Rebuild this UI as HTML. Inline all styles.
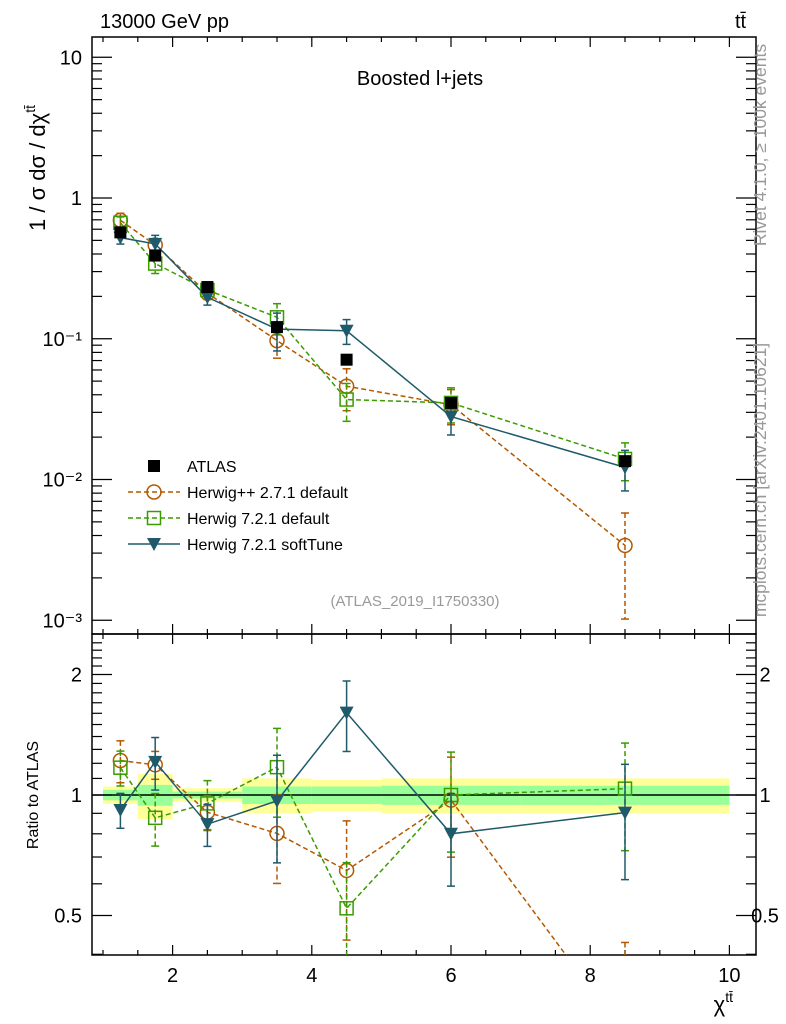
<!DOCTYPE html>
<html><head><meta charset="utf-8">
<style>
html,body{margin:0;padding:0;background:#fff;width:786px;height:1024px;overflow:hidden;font-family:"Liberation Sans",sans-serif}
svg{display:block;overflow:hidden}
svg text{font-family:"Liberation Sans",sans-serif}
</style></head>
<body>
<svg id="c" width="786" height="1024" viewBox="0 0 786 1024" xmlns="http://www.w3.org/2000/svg"></svg>
<script>
const centers=[1.25,1.75,2.5,3.5,4.5,6,8.5];
const binEdges=[1,1.5,2,3,4,5,7,10];
const atlas=[0.57,0.39,0.233,0.121,0.071,0.035,0.0135];
const atlasStat=[0.03,0.06,0.02,0.05,0.05,0.055,0.055];
const atlasTot=[0.05,0.13,0.04,0.10,0.09,0.10,0.10];
const hwpp=[0.695,0.464,0.211,0.097,0.046,0.034,0.0034];
const hwppErr=[0.12,0.08,0.10,0.25,0.33,0.28,0.7];
const hw7=[0.667,0.342,0.222,0.142,0.037,0.035,0.014];
const hw7Err=[0.10,0.15,0.14,0.25,0.30,0.28,0.30];
const soft=[0.523,0.472,0.197,0.117,0.114,0.028,0.0122];
const softErr=[0.10,0.15,0.12,0.30,0.20,0.26,0.32];
const xTicks=[2,4,6,8,10];
const yTicks=[10,1,0.1,0.01,0.001];
const yTickLabels=["10","1","10\u207B\u00B9","10\u207B\u00B2","10\u207B\u00B3"];
const rTicks=[2,1,0.5];

const NS="http://www.w3.org/2000/svg",svg=document.getElementById('c');
const L=92,R=756,T=37,M=634,B=955;
const X=x=>103+(x-1)*69.6;
const Y=v=>198-Math.log10(v)*140.75;
const RY=r=>795-Math.log2(r)*120.5;
function el(t,a,p){const e=document.createElementNS(NS,t);for(const k in a)e.setAttribute(k,a[k]);(p||svg).appendChild(e);return e;}
function txt(s,a,p){const e=el('text',a,p);e.textContent=s;return e;}
const defs=el('defs',{});
const cp1=el('clipPath',{id:'cm'},defs);el('rect',{x:L,y:T,width:R-L,height:M-T},cp1);
const cp2=el('clipPath',{id:'cr'},defs);el('rect',{x:L,y:M,width:R-L,height:B-M},cp2);

const gb=el('g',{'clip-path':'url(#cr)'});

for(let i=0;i<centers.length;i++){
 const x1=X(binEdges[i]),x2=X(binEdges[i+1]);
 const y=el('rect',{x:x1,width:x2-x1,y:RY(1+atlasTot[i]),height:RY(1-atlasTot[i])-RY(1+atlasTot[i]),fill:'#ffff99'},gb);
 
 const g=el('rect',{x:x1,width:x2-x1,y:RY(1+atlasStat[i]),height:RY(1-atlasStat[i])-RY(1+atlasStat[i]),fill:'#99ff99'},gb);
 
}
el('line',{x1:L,x2:R,y1:RY(1),y2:RY(1),stroke:'#000','stroke-width':1.5});

el('rect',{x:L,y:T,width:R-L,height:M-T,fill:'none',stroke:'#000','stroke-width':1.5});
el('rect',{x:L,y:M,width:R-L,height:B-M,fill:'none',stroke:'#000','stroke-width':1.5});

for(let d=-3;d<=1;d++){for(let k=1;k<10;k++){const v=k*Math.pow(10,d);const y=Y(v);if(y<T||y>M)continue;const len=k==1?20:10;
 el('line',{x1:L,x2:L+len,y1:y,y2:y,stroke:'#000','stroke-width':1.2});el('line',{x1:R,x2:R-len,y1:y,y2:y,stroke:'#000','stroke-width':1.2});}}
yTicks.forEach((v,i)=>{const t=txt(yTickLabels[i],{x:L-10,y:Y(v)+7,'font-size':20,'text-anchor':'end'});});
for(let r=0.4;r<=2.5;r+=0.1){const y=RY(r);if(y<M||y>B)continue;const big=Math.abs(r-1)<1e-6||Math.abs(r-2)<1e-6||Math.abs(r-0.5)<1e-6;const len=big?20:10;
 el('line',{x1:L,x2:L+len,y1:y,y2:y,stroke:'#000','stroke-width':1.2});el('line',{x1:R,x2:R-len,y1:y,y2:y,stroke:'#000','stroke-width':1.2});}
rTicks.forEach(r=>{const a=txt(String(r),{x:L-10,y:RY(r)+7,'font-size':20,'text-anchor':'end'});
 const b=txt(String(r),{x:765,y:RY(r)+7,'font-size':20,'text-anchor':'middle'});});
for(let x=1;x<=10;x+=0.5){const big=x%2==0;const len=big?10:5;const px=X(x);
 [M,B].forEach(yy=>el('line',{x1:px,x2:px,y1:yy,y2:yy-len,stroke:'#000','stroke-width':1.2}));
 el('line',{x1:px,x2:px,y1:T,y2:T+len,stroke:'#000','stroke-width':1.2});
 el('line',{x1:px,x2:px,y1:M,y2:M+len,stroke:'#000','stroke-width':1.2});}
xTicks.forEach(x=>{const t=txt(String(x),{x:X(x),y:B+27,'font-size':20,'text-anchor':'middle'});});

function marker(g,type,x,y,col){
 if(type=='sq')el('rect',{x:x-7,y:y-7,width:14,height:14,fill:'#000'},g);
 if(type=='circ')el('circle',{cx:x,cy:y,r:7,fill:'none',stroke:col,'stroke-width':1.5},g);
 if(type=='osq')el('rect',{x:x-6.5,y:y-6.5,width:13,height:13,fill:'none',stroke:col,'stroke-width':1.5},g);
 if(type=='tri')el('path',{d:`M${x-7},${y-6} L${x+7},${y-6} L${x},${y+7} Z`,fill:col},g);
}
function series(name,vals,errs,col,dash,type){
 const gm=el('g',{'clip-path':'url(#cm)'});
 const gr=el('g',{'clip-path':'url(#cr)'});
 const pm=[],pr=[];
 vals.forEach((v,i)=>{const x=X(centers[i]);pm.push(x+','+Y(v));const r=v/atlas[i];pr.push(x+','+RY(r));
  const e=errs[i];
  [[gm,Y(v*(1+e)),Y(v*Math.max(1-e,0.05))],[gr,RY(r*(1+e)),RY(r*Math.max(1-e,0.05))]].forEach(([g,y1,y2])=>{
   el('line',{x1:x,x2:x,y1:y1,y2:y2,stroke:col,'stroke-width':1.5,'stroke-dasharray':dash||'none'},g);
   el('line',{x1:x-4,x2:x+4,y1:y1,y2:y1,stroke:col,'stroke-width':1.5},g);
   el('line',{x1:x-4,x2:x+4,y1:y2,y2:y2,stroke:col,'stroke-width':1.5},g);});
 });
 el('polyline',{points:pm.join(' '),fill:'none',stroke:col,'stroke-width':1.5,'stroke-dasharray':dash||'none'},gm);
 el('polyline',{points:pr.join(' '),fill:'none',stroke:col,'stroke-width':1.5,'stroke-dasharray':dash||'none'},gr);
 vals.forEach((v,i)=>{const x=X(centers[i]);marker(gm,type,x,Y(v),col);marker(gr,type,x,RY(v/atlas[i]),col);});
}
series('herwigpp-271',hwpp,hwppErr,'#b35900','5,3','circ');
series('herwig-721-default',hw7,hw7Err,'#3a9c00','5,3','osq');
series('herwig-721-softtune',soft,softErr,'#1f5a6b',null,'tri');
const ga=el('g',{});
atlas.forEach((v,i)=>{const m=el('rect',{x:X(centers[i])-6,y:Y(v)-6,width:12,height:12,fill:'#000'},ga);});

const lg=el('g',{});
const items=[['ATLAS','sq','#000',null],['Herwig++ 2.7.1 default','circ','#b35900','5,3'],['Herwig 7.2.1 default','osq','#3a9c00','5,3'],['Herwig 7.2.1 softTune','tri','#1f5a6b',null]];
items.forEach((it,i)=>{const y=466+i*26;const g=el('g',{},lg);
 if(it[0]!='ATLAS')el('line',{x1:128,x2:180,y1:y,y2:y,stroke:it[2],'stroke-width':1.5,'stroke-dasharray':it[3]||'none'},g);
 if(it[1]=='sq')el('rect',{x:148,y:y-6,width:12,height:12,fill:'#000'},g);else marker(g,it[1],154,y,it[2]);
 txt(it[0],{x:187,y:y+6,'font-size':16},g);});

function lab(s,a,name){const t=txt(s,a);return t;}
lab('13000 GeV pp',{x:100,y:28,'font-size':20},'energy-label');
lab('tt\u0304',{x:735,y:28,'font-size':20},'process-label');
lab('Boosted l+jets',{x:420,y:85,'font-size':20,'text-anchor':'middle'},'plot-title');
lab('(ATLAS_2019_I1750330)',{x:415,y:606,'font-size':15,fill:'#999','text-anchor':'middle'},'analysis-id');
const yl=lab('1 / σ dσ / dχ',{x:0,y:0,'font-size':22,transform:'translate(45,168) rotate(-90)','text-anchor':'middle'},'y-axis-title');
const ys=el('tspan',{dy:-10,'font-size':14},yl);ys.textContent='tt\u0304';
lab('Ratio to ATLAS',{x:0,y:0,'font-size':16,transform:'translate(38,795) rotate(-90)','text-anchor':'middle'},'ratio-axis-title');
const xl=lab('χ',{x:733,y:1012,'font-size':22,'text-anchor':'end'},'x-axis-title');
const xs=el('tspan',{dy:-10,'font-size':14},xl);xs.textContent='tt\u0304';
lab('Rivet 4.1.0, ≥ 100k events',{x:0,y:0,'font-size':17.5,fill:'#999',transform:'translate(766,145) rotate(-90)','text-anchor':'middle'},'rivet-label');
lab('mcplots.cern.ch [arXiv:2401.10621]',{x:0,y:0,'font-size':17.5,fill:'#999',transform:'translate(766,480) rotate(-90)','text-anchor':'middle'},'mcplots-label');
</script>
</body></html>
